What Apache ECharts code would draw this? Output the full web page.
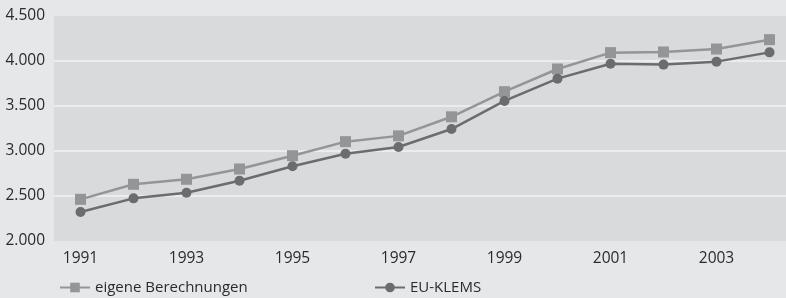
<!DOCTYPE html>
<html>
<head>
<meta charset="utf-8">
<script src="https://cdn.jsdelivr.net/npm/echarts@6/dist/echarts.min.js"></script>
<style>
  html, body { margin: 0; padding: 0; background: #e6e7e8; overflow: hidden; }
  /* etwas breiter als das Fenster: die Zeichenfläche läuft rechts aus dem Bild */
  #chart { width: 796px; height: 298px; }
</style>
</head>
<body>
<div id="chart"></div>
<script>
// Jahre auf der x-Achse
const years = ["1991", "1992", "1993", "1994", "1995", "1996", "1997",
  "1998", "1999", "2000", "2001", "2002", "2003", "2004"];
// eigene Berechnungen (Quadrate)
const eigeneValues = [2463, 2630, 2686, 2800, 2948, 3104, 3168,
  3380, 3659, 3911, 4093, 4100, 4133, 4237];
// EU-KLEMS (Kreise)
const euKlemsValues = [2322, 2474, 2537, 2670, 2830, 2970, 3045,
  3244, 3556, 3804, 3970, 3960, 3993, 4096];
const yMin = 2000, yMax = 4500, yStep = 500;

const fontFam = "'Open Sans', 'DejaVu Sans', sans-serif";
const textColor = "#2b2b2b";

const myChart = echarts.init(document.getElementById("chart"));
const option = {
  backgroundColor: "#e6e7e8",
  animation: false,
  grid: {
    left: 54, right: 0, top: 16, bottom: 57,
    show: true,
    backgroundColor: "#d9dadb",
    borderWidth: 0
  },
  legend: [
    {
      data: ["eigene Berechnungen"],
      left: 54, top: 275,
      itemWidth: 30, itemHeight: 12,
      textStyle: { color: textColor, fontSize: 15, fontFamily: fontFam }
    },
    {
      data: ["EU-KLEMS"],
      left: 369, top: 275,
      itemWidth: 30, itemHeight: 12,
      textStyle: { color: textColor, fontSize: 15, fontFamily: fontFam }
    }
  ],
  xAxis: {
    type: "category",
    data: years,
    boundaryGap: true,
    axisLine: { show: false },
    axisTick: { show: false },
    axisLabel: {
      interval: 1,
      margin: 10,
      color: textColor,
      fontSize: 15.5,
      fontFamily: fontFam
    }
  },
  yAxis: {
    type: "value",
    min: yMin,
    max: yMax,
    interval: yStep,
    axisLine: { show: false },
    axisTick: { show: false },
    axisLabel: {
      margin: 9,
      color: textColor,
      fontSize: 15.5,
      fontFamily: fontFam,
      formatter: function (v) {
        return String(v).replace(/\B(?=(\d{3})+(?!\d))/g, ".");
      }
    },
    splitLine: {
      lineStyle: {
        // keine weiße Linie am Rand
        color: ["rgba(0,0,0,0)", "#f2f2f2", "#f2f2f2", "#f2f2f2", "#f2f2f2", "rgba(0,0,0,0)"],
        width: 1.5
      }
    }
  },
  series: [
    {
      name: "eigene Berechnungen",
      type: "line",
      data: eigeneValues,
      symbol: "rect",
      symbolSize: 11,
      color: "#949598",
      lineStyle: { width: 2.5, color: "#949598" },
      itemStyle: { color: "#949598" }
    },
    {
      name: "EU-KLEMS",
      type: "line",
      data: euKlemsValues,
      symbol: "circle",
      symbolSize: 10,
      color: "#6b6c6e",
      lineStyle: { width: 2.5, color: "#6b6c6e" },
      itemStyle: { color: "#6b6c6e" }
    }
  ]
};
myChart.setOption(option);
</script>
</body>
</html>
